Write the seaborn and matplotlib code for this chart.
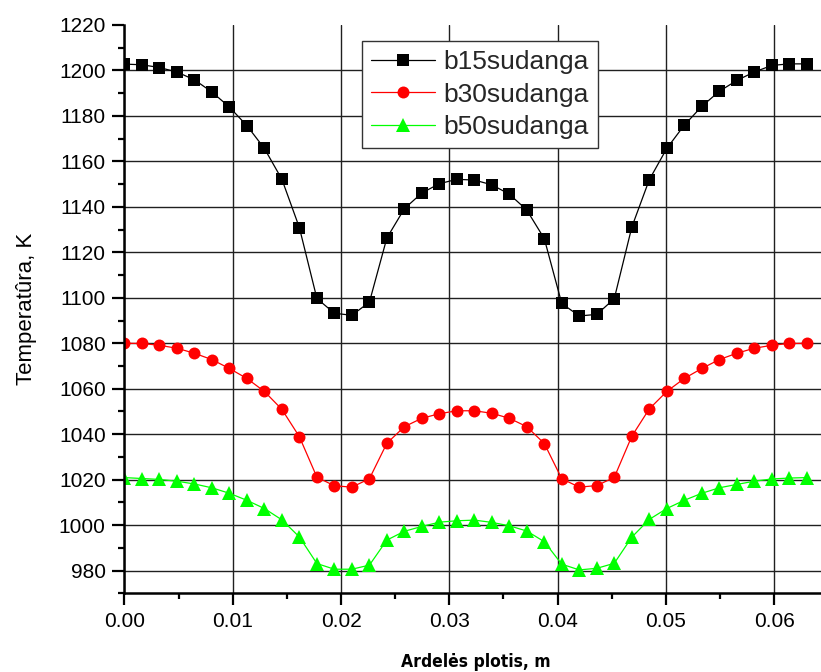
import matplotlib
matplotlib.use("Agg")
import matplotlib.pyplot as plt
from matplotlib.ticker import MultipleLocator, FixedLocator
import seaborn as sns
import pandas as pd

# Width positions across the section, m
x_pos = [0.0, 0.00162, 0.00323, 0.00485, 0.00646, 0.00808, 0.00969, 0.01131,
         0.01292, 0.01454, 0.01615, 0.01777, 0.01938, 0.021, 0.02262, 0.02423,
         0.02585, 0.02746, 0.02908, 0.03069, 0.03231, 0.03392, 0.03554, 0.03715,
         0.03877, 0.04038, 0.042, 0.04362, 0.04523, 0.04685, 0.04846, 0.05008,
         0.05169, 0.05331, 0.05492, 0.05654, 0.05815, 0.05977, 0.06138, 0.063]

# Temperatures, K
t_b15 = [1202.8, 1202.5, 1201.3, 1199.3, 1195.9, 1190.5, 1183.9, 1175.7, 1165.7, 1152.1,
         1130.9, 1099.7, 1093.2, 1092.3, 1098.1, 1126.3, 1139.2, 1146.1, 1150.2, 1152.1,
         1151.8, 1149.7, 1145.6, 1138.6, 1126.0, 1097.5, 1092.0, 1092.7, 1099.6, 1131.1,
         1151.9, 1165.7, 1175.9, 1184.2, 1190.8, 1195.6, 1199.3, 1202.2, 1202.9, 1202.9]
t_b30 = [1080.0, 1079.9, 1079.1, 1077.8, 1075.6, 1072.8, 1068.9, 1064.5, 1058.8, 1050.9,
         1038.9, 1021.1, 1017.3, 1016.7, 1020.4, 1036.0, 1043.3, 1047.0, 1049.0, 1050.3,
         1050.3, 1049.2, 1047.0, 1043.3, 1035.9, 1020.4, 1016.7, 1017.4, 1021.0, 1039.1,
         1051.1, 1058.8, 1064.5, 1068.9, 1072.8, 1075.6, 1077.8, 1079.1, 1079.9, 1080.0]
t_b50 = [1020.9, 1020.5, 1020.1, 1019.3, 1018.1, 1016.4, 1014.0, 1010.9, 1007.3, 1002.3,
         994.8, 983.1, 980.6, 980.6, 982.4, 993.4, 997.3, 999.4, 1001.3, 1001.9,
         1002.2, 1001.2, 999.7, 997.4, 992.7, 982.8, 980.3, 981.0, 983.2, 994.7,
         1002.5, 1007.3, 1010.9, 1014.0, 1016.4, 1017.9, 1019.3, 1020.3, 1020.7, 1020.9]

series_names = ["b15sudanga", "b30sudanga", "b50sudanga"]
colors = ["#000000", "#ff0000", "#00ff00"]
markers = ["s", "o", "^"]
msizes = [8.0, 8.6, 9.5]

y_ticks = [980, 1000, 1020, 1040, 1060, 1080, 1100, 1120, 1140, 1160, 1180, 1200, 1220]
x_ticks = [0.0, 0.01, 0.02, 0.03, 0.04, 0.05, 0.06]

sns.set_theme(style="white")
plt.rcParams["font.family"] = ["Liberation Sans", "DejaVu Sans"]

df = pd.DataFrame({
    "x": x_pos * 3,
    "T": t_b15 + t_b30 + t_b50,
    "series": sum([[n] * len(x_pos) for n in series_names], []),
})

fig = plt.figure(figsize=(8.21, 6.72), dpi=100)
ax = fig.add_axes([0.1516, 0.1171, 0.8484, 0.8457])

for name, col, mk, ms in zip(series_names, colors, markers, msizes):
    sns.lineplot(data=df[df["series"] == name], x="x", y="T", ax=ax,
                 color=col, marker=mk, markersize=ms, markeredgewidth=0,
                 linewidth=0.9, label=name, errorbar=None, sort=False)

ax.set_xlim(0, 0.06432)
ax.set_ylim(970, 1220)
ax.xaxis.set_major_locator(FixedLocator(x_ticks))
ax.xaxis.set_minor_locator(MultipleLocator(0.005))
ax.yaxis.set_major_locator(FixedLocator(y_ticks))
ax.yaxis.set_minor_locator(MultipleLocator(10))
ax.set_xticklabels([f"{v:.2f}" for v in x_ticks])
ax.set_yticklabels([str(v) for v in y_ticks])

ax.grid(True, which="major", color="#202020", linewidth=1.0)
ax.set_axisbelow(True)
for gl, v in zip(ax.yaxis.get_gridlines(), y_ticks):
    if v == 1220:
        gl.set_visible(False)

for side in ["top", "right"]:
    ax.spines[side].set_visible(False)
for side in ["left", "bottom"]:
    ax.spines[side].set_color("black")
    ax.spines[side].set_linewidth(1.8)

ax.tick_params(axis="both", which="major", direction="out", length=8.5, width=1.6,
               color="black", labelsize=15, pad=5, labelcolor="black")
ax.tick_params(axis="both", which="minor", direction="out", length=4.5, width=1.6,
               color="black")
ax.tick_params(left=True, bottom=True, which="both")

ax.set_ylabel("Temperatûra, K", fontsize=16, color="black")
ax.yaxis.set_label_coords(-0.125, 0.5)
ax.set_xlabel("Ardelės plotis, m", fontsize=12.5, fontweight="bold", color="black",
              family="DejaVu Sans", fontstretch="condensed")
ax.xaxis.set_label_coords(0.505, -0.105)

leg = ax.legend(loc="upper left", bbox_to_anchor=(0.341, 0.972), borderaxespad=0,
                fontsize=19, frameon=True, fancybox=False, shadow=False,
                handlelength=2.4, handletextpad=0.35, labelspacing=0.32,
                borderpad=0.35)
leg.get_frame().set_edgecolor("#333333")
leg.get_frame().set_linewidth(1.0)
leg.get_frame().set_facecolor("white")
leg.get_frame().set_alpha(1.0)

fig.savefig("out.png", dpi=100)
